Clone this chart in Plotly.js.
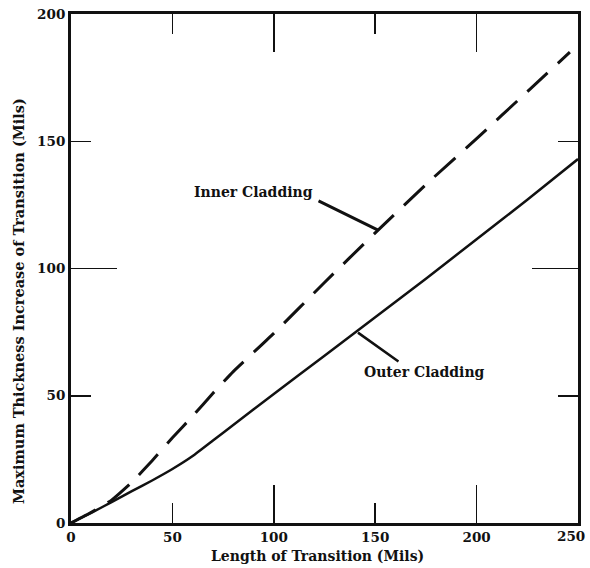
<!DOCTYPE html>
<html>
<head>
<meta charset="utf-8">
<script src="https://cdn.plot.ly/plotly-3.0.1.min.js"></script>
<style>html,body{margin:0;padding:0;background:#fff;}#chart{width:590px;height:568px;}</style>
</head>
<body>
<div id="chart"></div>
<script>
// Length of transition (Mils) and max thickness increase (Mils)
var outerX = [0, 10, 20, 30, 40, 50, 60, 70, 80, 100, 125, 150, 175, 200, 225, 250];
var outerY = [0, 4, 8.2, 12.5, 16.7, 21.2, 26.3, 32.4, 38.5, 50.7, 65.7, 80.8, 96, 111.5, 127, 143];
var innerX = [0, 10, 20, 30, 40, 50, 60, 70, 80, 100, 125, 150, 175, 200, 225, 246];
var innerY = [0, 4.2, 9, 16, 24.5, 33.5, 42, 51, 59.5, 74.5, 94.5, 114, 133, 151, 169.5, 185];
var xTicks = [0, 50, 100, 150, 200, 250];
var xTickText = ['0', '50', '100', '150', '200', ''];
var xLastLabel = '250';
var yTicks = [0, 50, 100, 150, 200];
var yTickText = ['0', '50', '100', '150', '200'];
var xLongTicks = [100, 200];
var yLongTicks = [100];

var fontFam = 'DejaVu Serif, serif';
var ink = '#111111';

var traces = [
  {x: innerX, y: innerY, mode: 'lines', line: {color: ink, width: 3, dash: '28px,14px', shape: 'spline', smoothing: 0.4}, hoverinfo: 'skip'},
  {x: outerX, y: outerY, mode: 'lines', line: {color: ink, width: 2.5, shape: 'spline', smoothing: 0.4}, hoverinfo: 'skip'},
  {x: [], y: [], xaxis: 'x2', yaxis: 'y2', mode: 'lines', hoverinfo: 'skip'}
];

var layout = {
  width: 590, height: 568,
  margin: {l: 71, r: 12, t: 14, b: 45},
  paper_bgcolor: '#ffffff', plot_bgcolor: '#ffffff',
  showlegend: false,
  font: {family: fontFam, color: ink, size: 13},
  xaxis: {
    range: [0, 250], tickvals: xTicks, ticktext: xTickText,
    ticks: 'inside', ticklen: 20, tickwidth: 1.5, tickcolor: ink,
    showline: true, linewidth: 3, linecolor: ink, mirror: 'ticks',
    showgrid: false, zeroline: false,
    tickfont: {family: fontFam, size: 13.5, color: ink, weight: 'bold'}
  },
  yaxis: {
    range: [0, 200], tickvals: yTicks, ticktext: yTickText,
    ticks: 'inside', ticklen: 20, tickwidth: 1.5, tickcolor: ink,
    showline: true, linewidth: 3, linecolor: ink, mirror: 'ticks',
    showgrid: false, zeroline: false,
    tickfont: {family: fontFam, size: 13.5, color: ink, weight: 'bold'}
  },
  xaxis2: {
    overlaying: 'x', anchor: 'y2', range: [0, 250], tickvals: xLongTicks,
    ticks: 'inside', ticklen: 38, tickwidth: 1.5, tickcolor: ink,
    showticklabels: false, showline: false, mirror: 'ticks',
    showgrid: false, zeroline: false
  },
  yaxis2: {
    overlaying: 'y', anchor: 'x2', range: [0, 200], tickvals: yLongTicks,
    ticks: 'inside', ticklen: 46, tickwidth: 1.5, tickcolor: ink,
    showticklabels: false, showline: false, mirror: 'ticks',
    showgrid: false, zeroline: false
  },
  annotations: [
    {xref: 'x', yref: 'paper', x: 250, y: 0, text: xLastLabel, showarrow: false, xanchor: 'right', yanchor: 'top', xshift: 9, yshift: -3,
     font: {family: fontFam, size: 13.5, color: ink, weight: 'bold'}},
    {xref: 'paper', yref: 'paper', x: 0.487, y: -0.045, text: 'Length of Transition (Mils)', showarrow: false, xanchor: 'center', yanchor: 'top',
     font: {family: fontFam, size: 14, color: ink, weight: 'bold'}},
    {xref: 'paper', yref: 'paper', x: -0.1045, y: 0.436, text: 'Maximum Thickness Increase of Transition (Mils)', textangle: -90,
     showarrow: false, xanchor: 'center', yanchor: 'middle', font: {family: fontFam, size: 14.5, color: ink, weight: 'bold'}},
    {x: 151.4, y: 115.1, xref: 'x', yref: 'y', text: '', showarrow: true, arrowhead: 0, arrowwidth: 3, arrowcolor: ink, ax: -61, ay: -30},
    {x: 151.4, y: 115.1, xref: 'x', yref: 'y', text: 'Inner Cladding', showarrow: false, xanchor: 'right', yanchor: 'middle', xshift: -63, yshift: 38,
     font: {family: fontFam, size: 14, color: ink, weight: 'bold'}},
    {x: 141.5, y: 74.8, xref: 'x', yref: 'y', text: '', showarrow: true, arrowhead: 0, arrowwidth: 2.5, arrowcolor: ink, ax: 42, ay: 30},
    {x: 141.5, y: 74.8, xref: 'x', yref: 'y', text: 'Outer Cladding', showarrow: false, xanchor: 'left', yanchor: 'middle', xshift: 4, yshift: -39,
     font: {family: fontFam, size: 14, color: ink, weight: 'bold'}}
  ]
};

Plotly.newPlot('chart', traces, layout, {displayModeBar: false, staticPlot: true});
</script>
</body>
</html>
